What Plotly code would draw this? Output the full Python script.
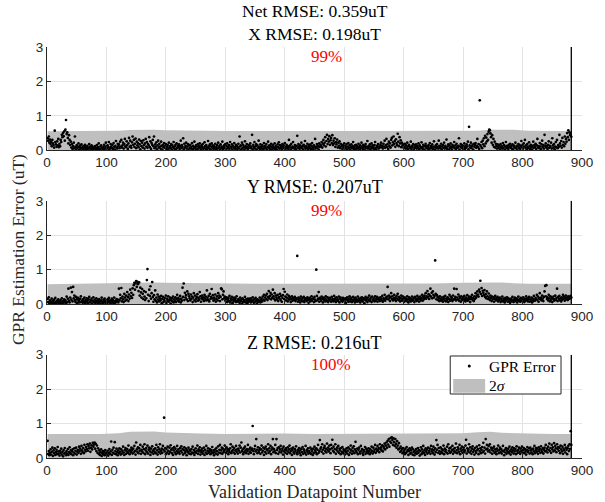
import plotly.graph_objects as go
from plotly.subplots import make_subplots

# ---------------- data (errors in hundredths of uT) ----------------
err_x_c = [
35,28,40,22,31,18,25,12,30,20,15,8,57,24,17,10,26,14,33,9,
19,12,30,24,45,38,50,41,55,28,60,88,47,52,36,20,44,30,15,25,
8,18,4,12,22,6,40,10,3,15,7,11,20,2,9,14,5,17,6,10,
3,12,7,16,4,9,2,13,8,5,18,6,11,3,14,7,2,10,5,8,
12,4,6,15,3,9,20,5,2,11,14,6,7,3,10,16,4,8,22,12,
5,14,9,24,3,7,18,11,6,16,4,21,10,2,13,27,8,5,19,12,
17,6,25,11,30,8,14,22,5,18,33,12,9,26,15,4,20,36,10,28,
13,7,23,40,16,30,10,19,34,6,25,14,21,9,31,17,3,27,12,22,
8,29,15,5,20,33,11,24,7,18,14,38,9,26,4,21,16,30,12,40,
6,17,10,23,3,14,28,8,19,11,5,25,13,2,16,9,21,7,12,18,
4,10,15,3,22,8,12,6,18,2,14,9,24,5,11,16,3,20,7,13,
9,17,4,12,28,6,15,10,35,3,19,8,13,22,5,11,18,2,14,7,
16,5,10,21,3,13,7,25,9,4,15,11,2,18,6,12,20,8,3,14,
10,18,4,7,23,12,5,15,2,9,27,6,13,17,3,11,20,8,14,4,
12,7,19,3,10,15,5,22,8,13,2,17,6,11,25,4,9,14,7,18,
3,12,20,6,9,15,4,24,11,7,17,2,13,8,21,5,10,16,3,12,
8,19,5,40,11,14,3,22,7,16,9,2,26,12,6,18,10,4,15,8,
13,20,6,11,45,3,16,9,24,5,12,18,2,14,7,28,10,4,17,9,
5,15,11,3,21,8,13,6,18,2,10,25,7,14,4,12,19,9,3,16,
11,6,20,4,13,8,2,17,10,23,5,15,7,12,3,18,9,14,6,21,
3,10,16,7,12,4,30,9,14,2,19,6,11,24,8,5,15,10,3,13,
42,7,18,11,4,14,9,22,6,13,2,16,10,27,5,12,8,19,3,15,
10,6,17,4,12,21,8,3,14,9,33,5,11,18,7,13,2,20,10,16,
12,24,8,19,30,14,22,38,11,27,45,18,33,25,41,16,29,36,21,44,
15,28,20,35,10,24,17,31,8,22,13,26,6,19,11,16,4,14,9,20,
5,13,8,18,3,11,21,7,15,2,10,17,6,12,24,4,9,14,3,16,
8,12,5,19,10,3,14,7,22,11,4,16,9,2,13,18,6,10,27,5,
12,8,17,3,11,20,6,14,9,4,15,24,7,2,13,10,18,5,11,8,
16,22,9,13,5,19,11,28,7,15,33,10,18,4,25,12,20,8,30,36,
14,23,40,18,27,10,32,21,15,48,25,12,38,20,29,9,22,14,17,7,
11,19,5,14,8,22,3,12,16,6,10,25,4,13,9,18,2,15,7,11,
17,5,12,8,20,3,14,10,6,23,9,4,16,11,2,13,19,7,12,5,
10,15,3,21,8,12,6,17,4,11,26,9,2,14,7,18,10,5,28,13,
6,12,19,3,10,15,8,22,5,13,9,31,4,11,17,2,14,7,20,10,
3,16,9,12,24,6,14,4,19,10,7,13,35,2,11,18,8,15,5,12,
9,20,4,13,7,17,11,25,3,68,14,8,22,6,12,16,2,19,10,15,
21,7,13,33,9,18,4,145,15,11,24,6,28,17,35,12,42,20,37,26,
47,30,54,60,58,49,38,22,44,16,33,10,25,8,19,13,5,17,11,7,
14,3,18,9,12,5,21,8,15,2,11,24,6,13,9,4,16,10,19,7,
12,5,17,3,14,10,8,22,6,13,2,11,18,7,15,4,12,27,9,16,
5,20,11,30,8,14,3,18,10,6,23,12,4,16,9,2,13,25,7,15,
10,19,4,14,33,8,12,6,21,11,3,17,28,9,15,5,45,13,20,8,
12,4,16,26,7,13,10,22,5,35,14,8,18,3,11,24,9,30,6,15,
10,45,20,13,27,8,36,16,24,12,40,19,33,25,50,38,58,30,52,44,
47,39]

err_y_c = [
15,6,20,3,11,8,4,16,2,9,5,13,3,18,7,2,10,6,14,4,
8,3,12,5,17,2,9,4,14,7,11,3,22,6,16,45,10,5,19,48,
13,35,8,50,17,25,11,6,21,14,3,18,9,12,5,16,23,7,10,4,
15,8,19,3,12,6,17,10,3,14,21,7,5,11,16,2,9,20,6,13,
4,10,17,7,2,12,5,15,8,2,11,19,6,3,13,9,16,4,7,10,
3,14,8,18,5,11,2,9,16,6,12,3,19,8,4,10,15,7,13,5,
45,11,27,17,47,8,22,14,6,30,19,10,25,13,35,21,9,28,16,42,
23,33,18,46,27,55,62,42,60,67,50,65,58,38,63,25,48,34,19,44,
30,15,38,22,12,35,17,70,102,27,9,42,24,52,16,32,64,21,7,26,
14,40,10,19,5,28,13,22,8,17,11,24,3,15,21,6,12,18,9,25,
4,16,10,23,7,13,19,2,11,17,8,22,5,14,9,20,6,15,27,10,
18,7,13,24,5,16,10,48,21,60,12,33,19,26,14,37,9,30,23,17,
11,28,15,22,6,19,32,12,25,8,16,21,29,10,18,13,35,23,7,17,
25,14,20,9,27,16,22,11,40,18,12,24,8,30,15,21,44,17,26,10,
19,13,28,7,16,23,11,32,18,25,9,21,46,43,14,27,37,17,22,10,
15,20,6,13,18,9,24,5,16,11,21,3,14,8,19,12,17,6,23,10,
7,15,11,4,19,9,13,2,17,6,12,8,21,5,14,10,3,16,7,12,
9,17,5,13,8,20,11,4,15,7,18,10,2,14,6,12,9,19,5,11,
16,8,22,13,27,10,19,25,15,30,12,21,38,17,24,33,14,28,19,42,
23,16,32,11,25,19,14,27,9,21,17,30,12,24,7,18,26,44,15,36,
22,11,19,28,8,16,24,13,20,6,15,23,10,18,12,13,21,9,17,14,
140,7,19,12,16,5,22,10,14,18,8,21,6,13,17,11,9,20,15,4,
12,18,8,15,23,10,16,16,6,21,13,9,100,24,11,16,35,7,18,14,
10,22,15,5,19,12,17,8,23,13,9,20,6,16,11,18,14,7,21,10,
15,8,24,12,17,6,20,11,14,9,22,5,16,19,10,13,7,18,12,15,
9,17,4,14,20,11,7,16,23,8,13,18,6,12,21,10,15,5,19,11,
14,7,22,9,16,12,5,18,11,20,8,14,17,3,13,21,10,16,6,19,
12,25,9,15,19,6,22,11,13,17,8,23,10,16,21,7,14,18,12,9,
20,15,11,24,7,17,13,27,10,19,16,22,50,14,25,18,9,21,32,15,
23,11,17,27,13,19,9,24,16,30,12,21,15,8,18,25,10,14,22,17,
7,19,12,16,9,23,14,5,20,11,17,8,15,22,10,13,18,6,21,12,
16,9,24,13,19,7,15,22,11,17,27,10,21,14,25,18,32,16,23,38,
20,29,15,25,45,22,33,17,37,27,19,24,127,30,14,26,21,12,18,9,
23,15,10,19,13,7,21,16,11,24,8,17,12,20,6,15,27,10,22,14,
18,9,25,13,45,16,21,11,44,19,14,28,10,22,17,7,23,12,16,20,
11,24,15,8,19,13,26,10,17,22,14,6,21,16,27,12,18,9,23,15,
32,19,25,37,28,22,42,35,68,30,47,24,39,33,26,41,21,29,17,37,
23,15,31,19,12,25,18,9,22,14,20,7,16,24,11,18,13,21,8,17,
12,19,6,15,10,22,8,16,13,5,18,11,14,20,7,17,9,15,4,12,
16,8,21,11,6,14,19,9,13,17,5,12,22,10,15,7,18,11,14,8,
20,13,6,16,10,23,12,17,8,15,21,7,14,11,19,5,16,9,24,13,
10,18,15,27,12,22,7,17,32,14,19,11,25,16,9,21,37,53,23,55,
15,20,11,27,17,8,23,13,19,6,16,22,10,14,25,12,18,45,9,21,
15,24,11,17,8,20,13,27,16,22,10,18,25,14,19,12,23,15,21,17,
24,19]

err_z_c = [
50,12,20,8,15,25,10,18,30,6,22,14,28,9,17,24,11,32,19,13,
7,21,15,27,10,18,5,23,13,29,16,8,20,12,26,9,17,31,14,22,
11,19,25,8,16,28,13,21,30,10,18,24,15,33,20,27,12,35,22,17,
29,14,38,24,19,32,26,40,21,35,28,42,18,30,37,25,44,33,39,45,
27,41,20,36,15,28,12,22,9,17,25,6,14,20,11,18,8,23,13,16,
10,21,7,15,26,12,19,48,9,24,16,30,13,46,20,11,27,17,8,22,
14,28,18,10,25,13,20,33,16,9,23,29,12,19,26,15,36,21,11,24,
17,30,22,13,27,16,35,20,10,45,25,18,31,14,28,21,38,12,24,19,
33,15,26,40,11,22,29,17,36,13,24,30,19,9,27,16,34,21,12,25,
18,28,14,38,22,10,31,17,25,40,13,20,27,15,35,24,117,19,29,11,
26,16,33,21,12,30,18,37,24,14,28,9,22,32,16,27,11,20,35,15,
25,18,12,29,21,34,16,26,10,23,31,14,19,27,8,22,17,30,13,24,
20,11,26,16,33,14,23,9,18,28,15,21,36,12,25,19,31,10,22,17,
27,13,20,30,9,24,16,35,12,21,28,15,19,26,11,23,17,32,14,22,
8,18,25,13,29,20,10,34,16,24,38,14,22,30,12,27,17,21,36,25,
15,31,19,26,11,23,17,28,40,14,20,33,24,16,29,12,22,35,18,25,
13,27,21,36,16,30,45,19,24,11,28,17,33,22,14,26,20,38,12,25,
18,30,15,23,27,93,20,11,26,35,19,55,24,14,31,17,22,28,12,25,
36,16,21,30,9,27,18,33,13,25,22,40,15,28,19,35,11,24,30,55,
17,26,20,38,14,55,23,29,12,31,18,25,35,16,21,27,10,33,19,24,
15,28,22,12,31,18,25,36,14,20,27,9,23,30,17,13,26,21,34,16,
11,24,19,29,14,22,8,27,17,32,12,25,20,15,35,10,23,18,28,13,
21,16,30,12,25,19,9,27,14,33,22,17,28,11,24,38,15,20,52,26,
31,18,40,24,13,29,35,20,27,16,42,23,30,19,36,25,14,38,28,53,
21,33,17,26,40,12,24,30,19,35,15,27,22,11,29,18,32,14,25,20,
10,23,17,28,13,21,31,9,26,16,36,22,12,29,19,34,14,25,47,20,
16,27,11,24,30,18,13,35,21,26,15,9,23,19,32,12,27,17,22,14,
28,19,11,25,16,33,21,13,30,18,24,38,15,27,20,35,23,29,17,40,
26,31,22,37,19,34,28,42,25,36,45,30,50,39,55,33,48,58,44,60,
52,38,57,46,35,55,41,30,49,36,25,43,28,18,33,21,26,14,29,17,
22,11,27,15,32,19,24,9,20,28,13,23,16,30,10,25,18,8,21,14,
26,12,19,29,15,23,7,20,31,11,25,17,35,14,22,9,28,18,24,13,
30,16,21,27,12,35,19,25,14,33,22,10,28,17,52,24,38,15,29,20,
12,31,18,26,14,22,36,11,27,19,24,16,33,13,40,21,28,15,30,18,
23,35,12,26,19,29,16,42,22,14,31,25,18,38,11,27,20,33,15,24,
30,17,22,36,53,13,28,19,25,40,16,31,21,12,27,34,18,24,10,29,
20,15,33,23,26,11,37,19,28,14,24,32,17,44,21,30,13,55,25,38,
27,19,35,22,40,16,30,24,12,28,20,33,15,25,18,11,27,21,36,14,
23,30,17,26,13,21,35,19,8,24,16,29,12,22,18,27,14,33,20,10,
25,17,31,22,13,28,19,26,11,34,21,15,24,30,18,12,27,20,33,16,
23,29,14,26,19,10,24,32,17,21,28,13,30,22,16,25,11,27,19,35,
14,22,29,18,25,12,31,20,26,15,34,23,17,28,13,24,30,19,38,21,
27,16,33,24,42,20,29,15,38,25,31,19,43,22,35,28,17,40,26,32,
21,30,14,36,25,19,33,12,27,22,38,16,30,24,11,28,35,20,40,26,
78,38]

# 2-sigma envelope (hundredths of uT) at knot datapoints
band_knots = [1, 30, 60, 90, 120, 140, 160, 180, 200, 230, 260, 300, 350, 400, 450,
              500, 550, 600, 650, 700, 725, 745, 765, 785, 810, 850, 882]
band_x_c = [55, 55, 56, 56, 57, 59, 60, 60, 58, 57, 56, 56, 56, 57, 56,
            56, 56, 57, 56, 56, 57, 60, 61, 60, 57, 56, 56]
band_y_c = [58, 59, 59, 59, 60, 62, 63, 63, 62, 61, 60, 59, 59, 59, 59,
            59, 59, 59, 60, 62, 63, 63, 63, 61, 59, 59, 59]
band_z_c = [70, 71, 70, 70, 72, 76, 77, 77, 74, 72, 71, 70, 71, 71, 70,
            70, 70, 71, 71, 72, 75, 76, 73, 72, 71, 70, 70]

n_points = 882
panel_titles = ["X RMSE: 0.198uT", "Y RMSE: 0.207uT", "Z RMSE: 0.216uT"]
net_title = "Net RMSE: 0.359uT"
pct_labels = ["99%", "99%", "100%"]
legend_labels = ["GPR Error", "2<i>σ</i>"]
x_ticks = [0, 100, 200, 300, 400, 500, 600, 700, 800, 900]
y_ticks = [0, 1, 2, 3]

errs = [[v / 100 for v in c] for c in (err_x_c, err_y_c, err_z_c)]
bands = [[v / 100 for v in c] for c in (band_x_c, band_y_c, band_z_c)]

# ---------------- figure ----------------
SERIF = "Liberation Serif"
SANS = "Liberation Sans"
AX = "#262626"
GRID = "#e3e3e3"
BAND = "#bfbfbf"

fig = make_subplots(rows=3, cols=1)
domains = [[0.7487, 1.0], [0.3743, 0.6257], [0.0, 0.2513]]

for i in range(3):
    r = i + 1
    e = errs[i]
    xs = list(range(1, len(e) + 1))
    fig.add_trace(go.Scatter(
        x=band_knots, y=bands[i], mode="lines", fill="tozeroy",
        fillcolor=BAND, line=dict(width=0, color=BAND),
        name="2σ", showlegend=False, hoverinfo="skip"),
        row=r, col=1)
    fig.add_trace(go.Scatter(
        x=xs, y=e, mode="markers",
        marker=dict(color="black", size=2.7, line=dict(width=0)),
        name="GPR Error", showlegend=False),
        row=r, col=1)
    fig.add_trace(go.Scatter(
        x=[n_points, n_points], y=[0, 3], mode="lines",
        line=dict(color="black", width=1.3), showlegend=False, hoverinfo="skip"),
        row=r, col=1)

    xa = "xaxis" if r == 1 else f"xaxis{r}"
    ya = "yaxis" if r == 1 else f"yaxis{r}"
    fig.layout[xa].update(
        domain=[0, 1], range=[0, 900], tickvals=x_ticks, showgrid=True, gridcolor=GRID,
        gridwidth=1, zeroline=False, showline=True, linecolor=AX, linewidth=1,
        ticks="inside", ticklen=4, tickcolor=AX,
        tickfont=dict(family=SANS, size=13.5, color=AX))
    fig.layout[ya].update(
        domain=domains[i], range=[0, 3], tickvals=y_ticks, showgrid=True, gridcolor=GRID,
        gridwidth=1, zeroline=False, showline=True, linecolor=AX, linewidth=1,
        ticks="inside", ticklen=4, tickcolor=AX,
        tickfont=dict(family=SANS, size=13.5, color=AX))

    xr = "x" if r == 1 else f"x{r}"
    yr = "y" if r == 1 else f"y{r}"
    fig.add_annotation(x=n_points / 2, y=2.71, xref=xr, yref=yr, text=pct_labels[i],
                       showarrow=False, xanchor="left", yanchor="middle",
                       font=dict(family=SERIF, size=17, color="#ff0000"))

# titles: top panel carries the two-line title (net + X)
fig.add_annotation(x=0.5, y=1.0584, xref="paper", yref="paper",
                   text=net_title + "<br>" + panel_titles[0],
                   showarrow=False, xanchor="center", yanchor="middle",
                   font=dict(family=SERIF, size=17.5, color="#000000"))
title_y = [None, 0.6601, 0.2805]
for i in (1, 2):
    fig.add_annotation(x=0.5, y=title_y[i], xref="paper", yref="paper", text=panel_titles[i],
                       showarrow=False, xanchor="center", yanchor="middle",
                       font=dict(family=SERIF, size=18, color="#000000"))
# axis labels
fig.add_annotation(x=0.5, y=-0.082, xref="paper", yref="paper",
                   text="Validation Datapoint Number", showarrow=False,
                   xanchor="center", yanchor="middle",
                   font=dict(family=SERIF, size=18, color="#262626"))
fig.add_annotation(x=-0.0541, y=0.506, xref="paper", yref="paper",
                   text="GPR Estimation Error (uT)", showarrow=False, textangle=-90,
                   xanchor="center", yanchor="middle",
                   font=dict(family=SERIF, size=17.5, color="#262626"))

# legend box (bottom panel, north-east)
fig.add_shape(type="rect", xref="paper", yref="paper", x0=0.7537, x1=0.9608,
              y0=0.1557, y1=0.2482, line=dict(color=AX, width=1), fillcolor="white",
              layer="above")
fig.add_shape(type="circle", xref="paper", yref="paper", x0=0.7893 - 0.0028,
              x1=0.7893 + 0.0028, y0=0.2238 - 0.0037, y1=0.2238 + 0.0037,
              line=dict(width=0), fillcolor="black", layer="above")
fig.add_shape(type="rect", xref="paper", yref="paper", x0=0.7593, x1=0.8190,
              y0=0.1589, y1=0.1922, line=dict(width=0), fillcolor=BAND, layer="above")
fig.add_annotation(x=0.8220, y=0.2238, xref="paper", yref="paper", text=legend_labels[0],
                   showarrow=False, xanchor="left", yanchor="middle",
                   font=dict(family=SERIF, size=15.5, color="#000000"))
fig.add_annotation(x=0.8220, y=0.1752, xref="paper", yref="paper", text=legend_labels[1],
                   showarrow=False, xanchor="left", yanchor="middle",
                   font=dict(family=SERIF, size=15.5, color="#000000"))

fig.update_layout(
    width=605, height=502,
    margin=dict(l=47, r=19, t=47, b=44),
    paper_bgcolor="white", plot_bgcolor="white",
    showlegend=False,
    hovermode=False,
)

fig.write_html("out.html")
